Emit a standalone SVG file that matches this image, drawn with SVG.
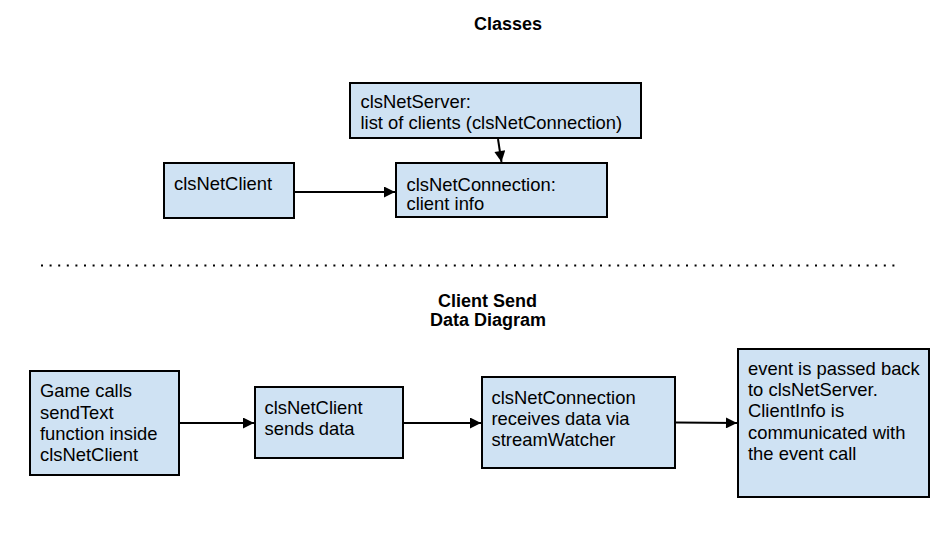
<svg xmlns="http://www.w3.org/2000/svg" width="937" height="548" viewBox="0 0 937 548">
<defs>
<style>
.box{fill:#cfe2f3;stroke:#000;stroke-width:2}
.t{font-family:"Liberation Sans",Arial,sans-serif;font-size:18.4px;fill:#000}
.h{font-family:"Liberation Sans",Arial,sans-serif;font-size:18px;font-weight:bold;fill:#000;text-anchor:middle}
.c{stroke:#000;stroke-width:2;fill:none;marker-end:url(#ah)}
</style>
<marker id="ah" viewBox="0 0 10 10" refX="10" refY="5" markerWidth="6" markerHeight="5.5" markerUnits="strokeWidth" orient="auto">
<path d="M0,0 L10,5 L0,10 z" fill="#000"/>
</marker>
</defs>
<rect width="937" height="548" fill="#fff"/>
<text class="h" x="508" y="30">Classes</text>
<text class="h" x="487.5" y="306.5">Client Send</text>
<text class="h" x="488" y="325.5">Data Diagram</text>
<line x1="41" y1="265.5" x2="901" y2="265.5" stroke="#000" stroke-width="2" stroke-dasharray="2 6.6"/>
<g id="connectors">
<line class="c" x1="295" y1="192" x2="395" y2="192"/>
<line class="c" x1="498" y1="139" x2="501.5" y2="162"/>
<line class="c" x1="180" y1="423" x2="254" y2="423"/>
<line class="c" x1="404" y1="423" x2="481" y2="423"/>
<line class="c" x1="676" y1="422.5" x2="737" y2="423"/>
</g>
<g id="clsNetServer">
<rect class="box" x="350" y="83" width="291" height="55"/>
<text class="t" x="360.5" y="108">clsNetServer:</text>
<text class="t" x="360.5" y="129">list of clients (clsNetConnection)</text>
</g>
<g id="clsNetClient">
<rect class="box" x="164" y="163" width="130" height="55"/>
<text class="t" x="174" y="189.5">clsNetClient</text>
</g>
<g id="clsNetConnection">
<rect class="box" x="396" y="163" width="211" height="54"/>
<text class="t" x="406.5" y="190.5">clsNetConnection:</text>
<text class="t" x="406.5" y="210">client info</text>
</g>
<g id="gameCalls">
<rect class="box" x="30" y="371" width="149" height="104"/>
<text class="t" x="40" y="397">Game calls</text>
<text class="t" x="40" y="418.5">sendText</text>
<text class="t" x="40" y="440">function inside</text>
<text class="t" x="40" y="461">clsNetClient</text>
</g>
<g id="clientSends">
<rect class="box" x="255" y="387" width="148" height="71"/>
<text class="t" x="264.5" y="413.5">clsNetClient</text>
<text class="t" x="264.5" y="434.5">sends data</text>
</g>
<g id="connectionReceives">
<rect class="box" x="482" y="377" width="193" height="91"/>
<text class="t" x="491.5" y="403.5">clsNetConnection</text>
<text class="t" x="491.5" y="424.5">receives data via</text>
<text class="t" x="491.5" y="446">streamWatcher</text>
</g>
<g id="eventPassed">
<rect class="box" x="738" y="349" width="191" height="148"/>
<text class="t" x="748" y="375">event is passed back</text>
<text class="t" x="748" y="396">to clsNetServer.</text>
<text class="t" x="748" y="417">ClientInfo is</text>
<text class="t" x="748" y="438.5">communicated with</text>
<text class="t" x="748" y="460">the event call</text>
</g>
</svg>
